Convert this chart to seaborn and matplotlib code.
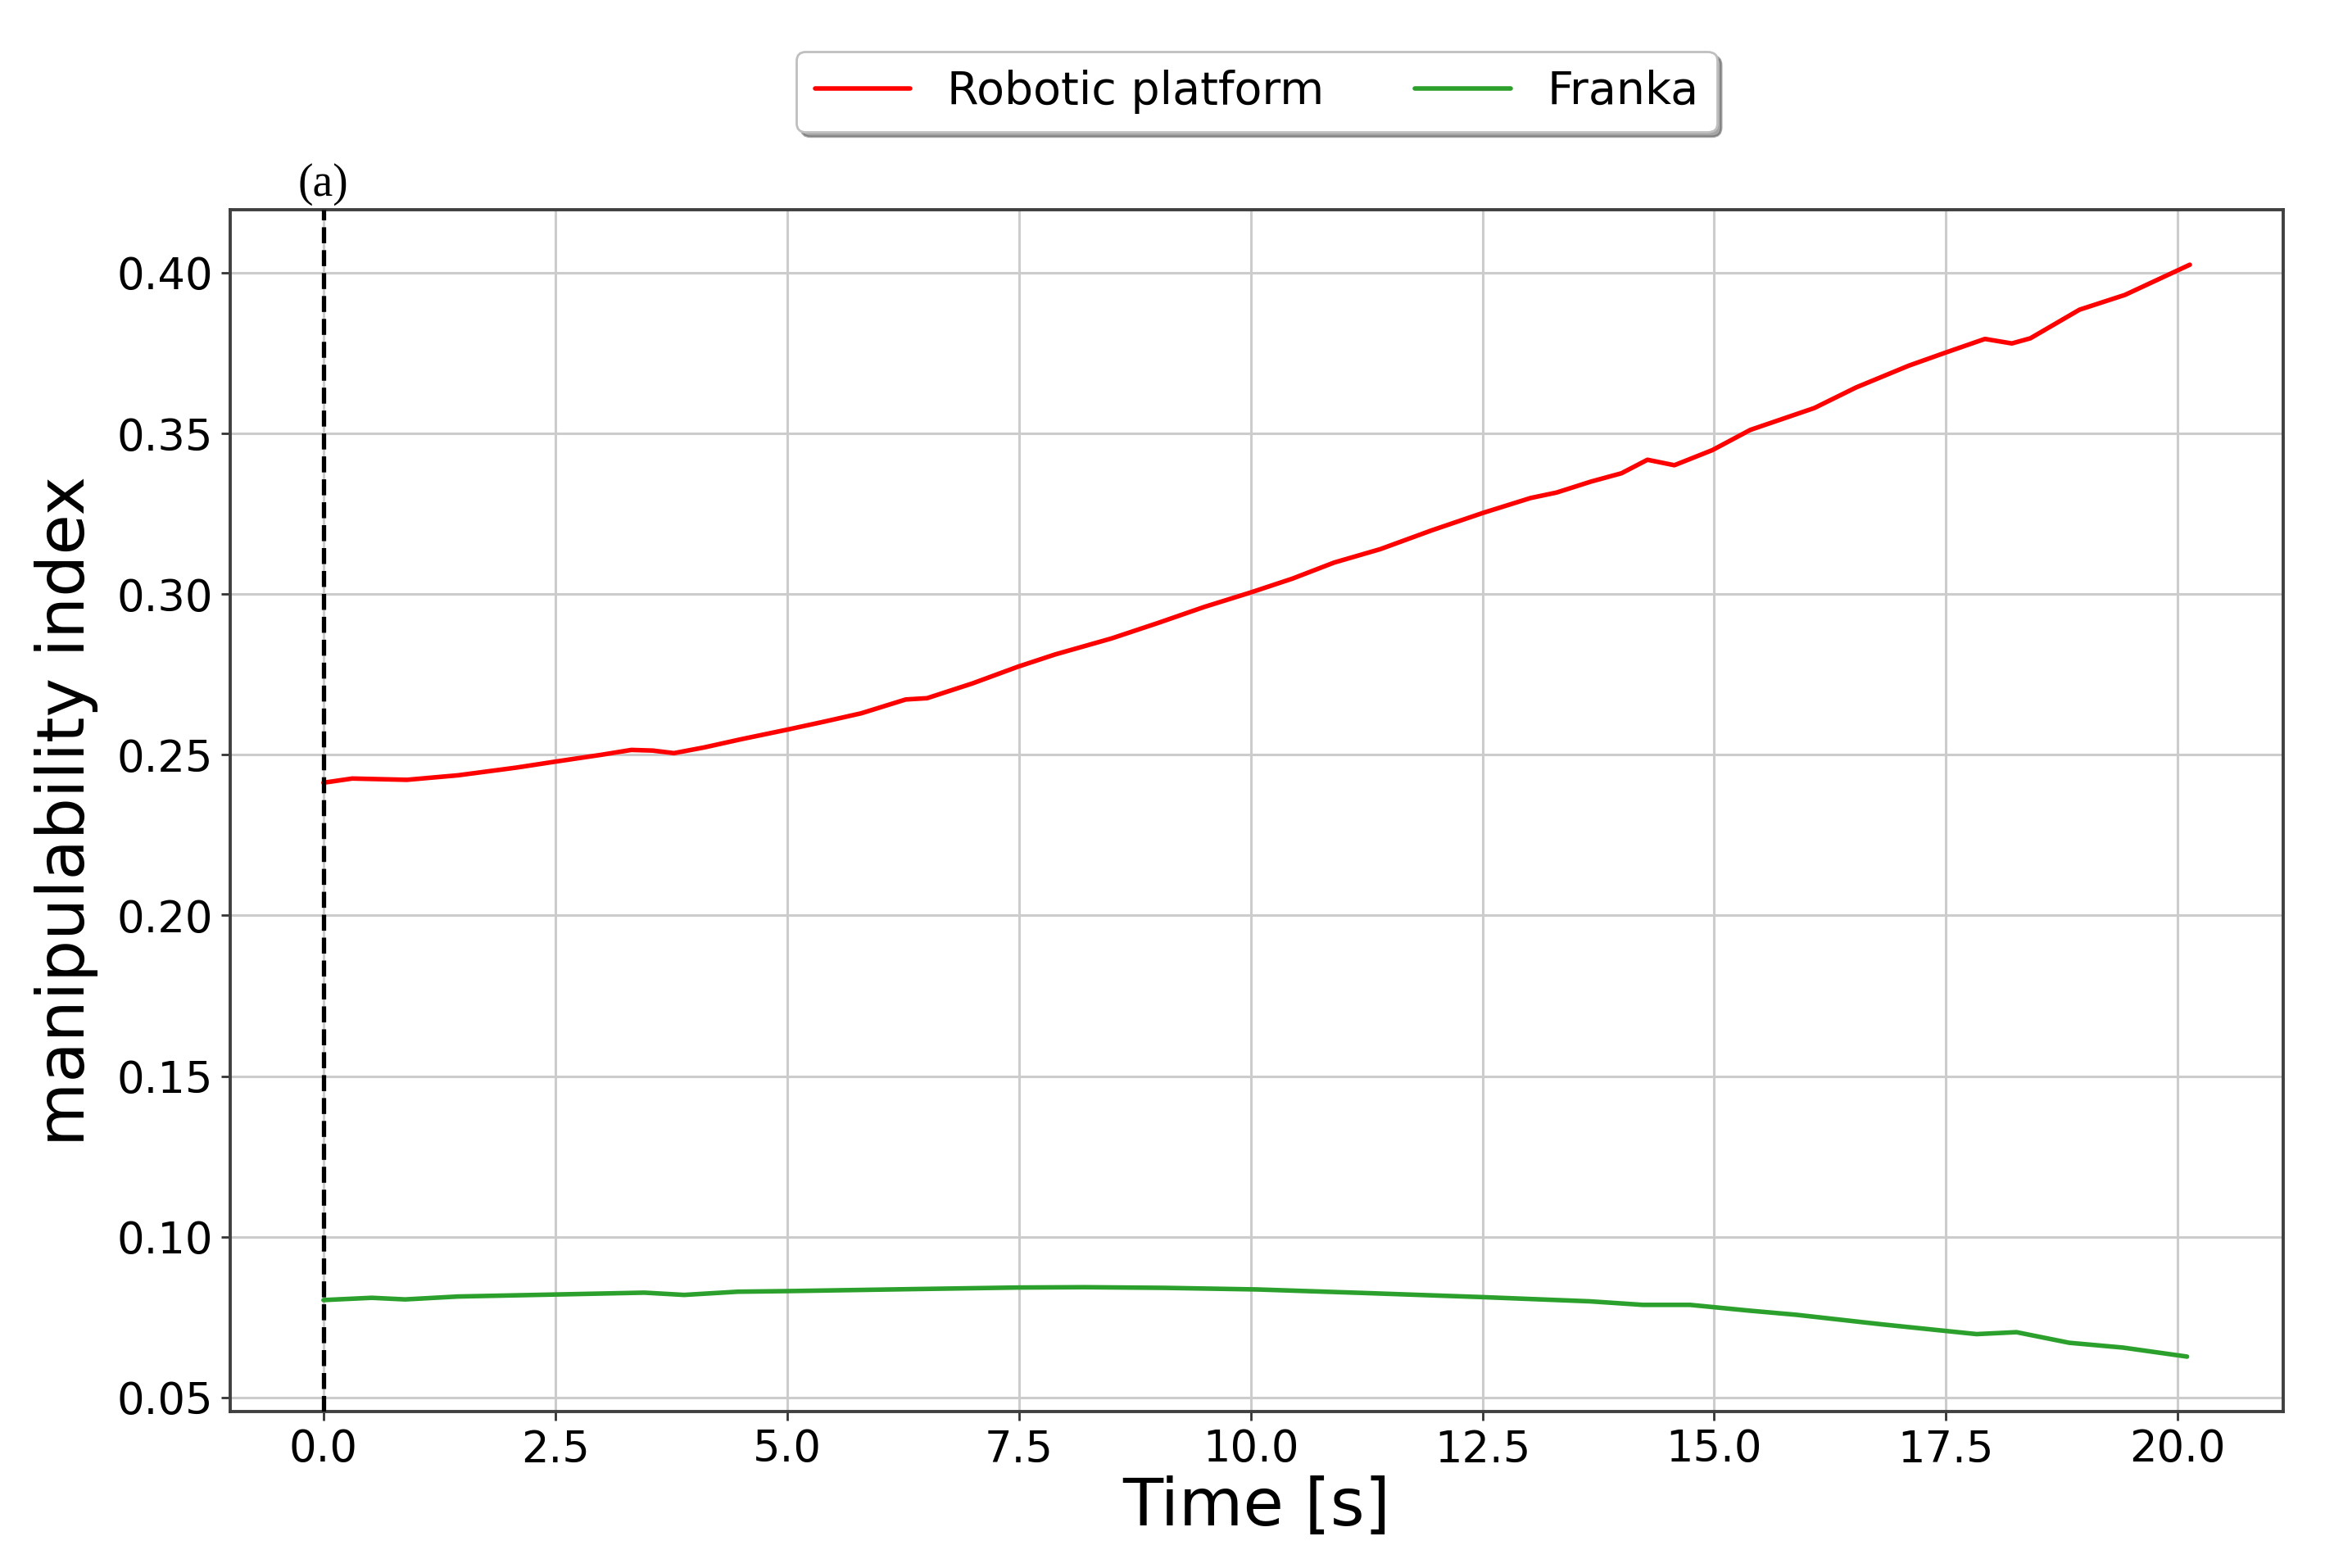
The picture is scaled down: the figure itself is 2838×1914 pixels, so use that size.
import numpy as np
import pandas as pd
import matplotlib
matplotlib.use("Agg")
import matplotlib.pyplot as plt
import matplotlib.transforms as mtransforms
import seaborn as sns

# ---- data ----
robot_t = [0.0, 0.31, 0.90, 1.45, 2.08, 2.51, 3.00, 3.32, 3.55, 3.78, 4.11, 4.50, 5.00, 5.40, 5.80,
           6.28, 6.51, 7.00, 7.49, 7.89, 8.50, 9.00, 9.50, 10.00, 10.45, 10.90, 11.40, 11.95,
           12.51, 13.02, 13.30, 13.67, 14.00, 14.28, 14.57, 14.98, 15.39, 16.08, 16.53, 17.10,
           17.51, 17.92, 18.21, 18.41, 18.94, 19.43, 20.13]
robot_m = [0.2413, 0.2426, 0.2422, 0.2436, 0.2460, 0.2479, 0.2500, 0.2515, 0.2513, 0.2505, 0.2523,
           0.2548, 0.2578, 0.2603, 0.2629, 0.2672, 0.2676, 0.2722, 0.2774, 0.2812, 0.2862, 0.2910,
           0.2960, 0.3005, 0.3048, 0.3098, 0.3140, 0.3198, 0.3253, 0.3299, 0.3316, 0.3350, 0.3376,
           0.3418, 0.3401, 0.3448, 0.3511, 0.3579, 0.3643, 0.3711, 0.3753, 0.3794, 0.3780, 0.3796,
           0.3885, 0.3931, 0.4025]

franka_t = [0.0, 0.52, 0.88, 1.45, 2.46, 3.46, 3.89, 4.47, 5.04, 6.34, 7.49, 8.20, 9.06, 10.07,
            11.22, 12.51, 13.66, 14.23, 14.74, 15.38, 15.89, 16.82, 17.83, 18.26, 18.83, 19.41, 20.10]
franka_m = [0.0803, 0.0810, 0.0805, 0.0814, 0.0820, 0.0826, 0.0819, 0.0829, 0.0831, 0.0837, 0.0842,
            0.0843, 0.0841, 0.0836, 0.0825, 0.0812, 0.0799, 0.0788, 0.0788, 0.0770, 0.0757, 0.0727,
            0.0697, 0.0703, 0.0670, 0.0655, 0.0627]

series_names = ["Robotic platform", "Franka"]
series_colors = ["red", "#2ca02c"]

y_ticks = [0.05, 0.10, 0.15, 0.20, 0.25, 0.30, 0.35, 0.40]
x_ticks = [0.0, 2.5, 5.0, 7.5, 10.0, 12.5, 15.0, 17.5, 20.0]

df = pd.concat([
    pd.DataFrame({"t": robot_t, "m": robot_m, "series": series_names[0]}),
    pd.DataFrame({"t": franka_t, "m": franka_m, "series": series_names[1]}),
], ignore_index=True)

# ---- style ----
sns.set_style("whitegrid", {
    "axes.edgecolor": "0.2",
    "grid.color": "0.8",
    "xtick.bottom": True,
    "ytick.left": True,
    "text.color": "black",
    "axes.labelcolor": "black",
})
plt.rcParams["font.family"] = ["DejaVu Sans"]
plt.rcParams["xtick.major.size"] = 4
plt.rcParams["ytick.major.size"] = 4
plt.rcParams["xtick.color"] = "0.2"
plt.rcParams["ytick.color"] = "0.2"
plt.rcParams["text.color"] = "black"

fig = plt.figure(figsize=(14.19, 9.57), dpi=200)
ax = fig.add_axes([0.099, 0.100, 0.883, 0.766])

sns.lineplot(data=df, x="t", y="m", hue="series", hue_order=series_names,
             palette=dict(zip(series_names, series_colors)), linewidth=2.0,
             estimator=None, sort=True, ax=ax)

ax.axvline(0.0, color="black", linestyle="--", linewidth=1.9, zorder=5)

ax.set_xticks(x_ticks)
ax.set_yticks(y_ticks)
ax.set_xticklabels([f"{v:.1f}" for v in x_ticks], color="black")
ax.set_yticklabels([f"{v:.2f}" for v in y_ticks], color="black")
ax.tick_params(axis="both", labelsize=19, width=1.0)
ax.margins(x=0.05, y=0.05)
ax.grid(True, linewidth=1.1, color="0.8")
for sp in ax.spines.values():
    sp.set_linewidth(1.4)
    sp.set_color("0.25")

ax.set_xlabel("Time [s]", fontsize=29, labelpad=2, color="black")
ax.set_ylabel("manipulability index", fontsize=29, labelpad=8, color="black")

leg = ax.legend(loc="lower center", bbox_to_anchor=(0.5, 1.046), ncol=2, fontsize=20,
                frameon=True, fancybox=True, shadow=True, handlelength=2.1,
                columnspacing=2.0, handletextpad=0.8, borderpad=0.4)
leg.get_frame().set_edgecolor("0.75")
for line in leg.get_lines():
    line.set_linewidth(2.0)
for txt in leg.get_texts():
    txt.set_color("black")

trans = mtransforms.blended_transform_factory(ax.transData, ax.transAxes)
ax.text(0.0, 1.004, "(a)", transform=trans, ha="center", va="bottom",
        fontsize=20, color="black", family=["Liberation Serif", "DejaVu Serif"])

fig.savefig("out.png", dpi=200)
